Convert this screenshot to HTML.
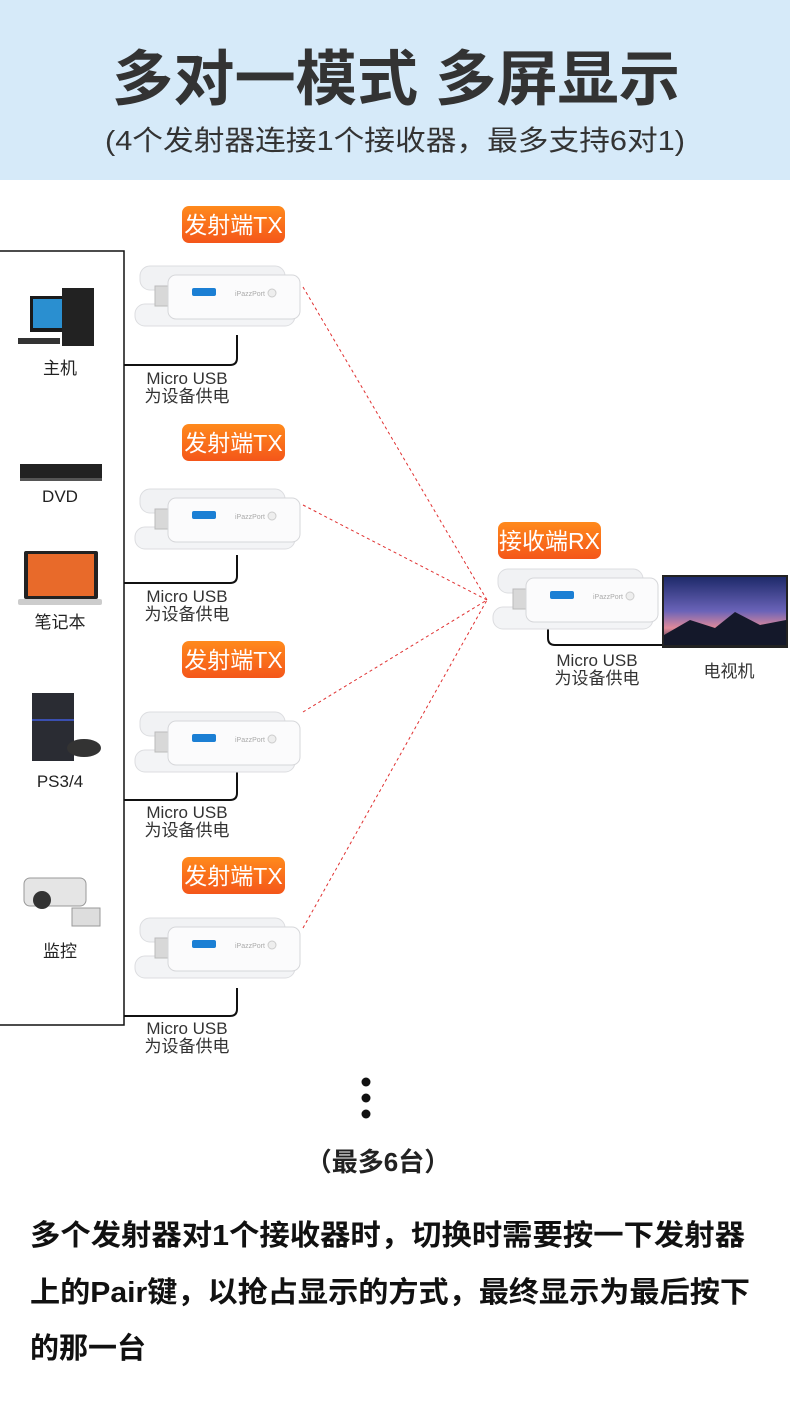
<!DOCTYPE html>
<html><head><meta charset="utf-8"><style>
html,body{margin:0;padding:0;background:#fff;}
body{width:790px;height:1408px;overflow:hidden;position:relative;font-family:"Liberation Sans","Noto Sans CJK SC",sans-serif;}
svg text{font-family:"Liberation Sans","Noto Sans CJK SC",sans-serif;}
</style></head><body>
<svg width="790" height="1408" viewBox="0 0 790 1408" xmlns="http://www.w3.org/2000/svg">
<defs>
<linearGradient id="og" x1="0" y1="0" x2="0" y2="1"><stop offset="0" stop-color="#ff8a1c"/><stop offset="1" stop-color="#f4561a"/></linearGradient>
<linearGradient id="sky" x1="0" y1="0" x2="0" y2="1"><stop offset="0" stop-color="#1e2a6a"/><stop offset="0.5" stop-color="#6a63b8"/><stop offset="0.75" stop-color="#e08a9a"/><stop offset="1" stop-color="#1b2138"/></linearGradient>
<g id="dev">
<rect x="0" y="0" width="145" height="24" rx="10" fill="#f1f2f4" stroke="#dcdde0"/>
<rect x="-5" y="38" width="160" height="22" rx="10" fill="#f3f4f6" stroke="#dcdde0"/>
<rect x="15" y="20" width="22" height="20" fill="#d8d8d8" stroke="#bbb"/>
<rect x="28" y="9" width="132" height="44" rx="8" fill="#fbfbfc" stroke="#d6d7da"/>
<rect x="52" y="22" width="24" height="8" rx="2" fill="#1b7fd4"/>
<text x="95" y="30" font-size="7" fill="#aaa">iPazzPort</text>
<circle cx="132" cy="27" r="4" fill="#eee" stroke="#ccc"/>
</g>
<g id="lbl">
<rect x="0" y="0" width="103" height="37" rx="7" fill="url(#og)"/>
<text x="51.5" y="27" font-size="23" fill="#fff" text-anchor="middle">发射端TX</text>
</g>
</defs>
<rect x="0" y="0" width="790" height="180" fill="#d6eaf9"/>
<text x="112" y="100" font-size="60" font-weight="bold" fill="#333" textLength="568" lengthAdjust="spacingAndGlyphs">多对一模式 多屏显示</text>
<text x="105" y="150" font-size="28" fill="#333" textLength="580" lengthAdjust="spacingAndGlyphs">(4个发射器连接1个接收器，最多支持6对1)</text>

<rect x="-2" y="251" width="126" height="774" fill="none" stroke="#111" stroke-width="1.5"/>

<g>
<rect x="30" y="296" width="40" height="36" fill="#1a1a1a"/><rect x="33" y="299" width="34" height="29" fill="#2a8fd0"/>
<rect x="62" y="288" width="32" height="58" fill="#222"/>
<rect x="18" y="338" width="42" height="6" fill="#333"/>
<text x="60" y="374" font-size="17" fill="#222" text-anchor="middle">主机</text>
<rect x="20" y="464" width="82" height="16" fill="#222"/><rect x="20" y="478" width="82" height="3" fill="#555"/>
<text x="60" y="502" font-size="17" fill="#222" text-anchor="middle">DVD</text>
<rect x="24" y="551" width="74" height="48" rx="2" fill="#222"/><rect x="28" y="554" width="66" height="42" fill="#e86a2a"/>
<rect x="18" y="599" width="84" height="6" rx="2" fill="#ccc"/>
<text x="60" y="628" font-size="17" fill="#222" text-anchor="middle">笔记本</text>
<rect x="32" y="693" width="42" height="68" fill="#2a2c33"/><rect x="32" y="719" width="42" height="2" fill="#3a4fb0"/>
<ellipse cx="84" cy="748" rx="17" ry="9" fill="#333"/>
<text x="60" y="787" font-size="17" fill="#222" text-anchor="middle">PS3/4</text>
<rect x="24" y="878" width="62" height="28" rx="6" fill="#e5e5e5" stroke="#999"/><circle cx="42" cy="900" r="9" fill="#333"/>
<rect x="72" y="908" width="28" height="18" fill="#ddd" stroke="#999"/>
<text x="60" y="957" font-size="17" fill="#222" text-anchor="middle">监控</text>
</g>

<g fill="none" stroke="#111" stroke-width="2">
<path d="M237 335 V358 q0 7 -7 7 H124"/>
<path d="M237 555 V576 q0 7 -7 7 H124"/>
<path d="M237 772 V793 q0 7 -7 7 H124"/>
<path d="M237 988 V1009 q0 7 -7 7 H124"/>
<path d="M548 628 V638 q0 7 7 7 H662"/>
</g>
<use href="#lbl" x="182" y="206"/><use href="#dev" x="140" y="266"/>
<use href="#lbl" x="182" y="424"/><use href="#dev" x="140" y="489"/>
<use href="#lbl" x="182" y="641"/><use href="#dev" x="140" y="712"/>
<use href="#lbl" x="182" y="857"/><use href="#dev" x="140" y="918"/>
<g font-size="17" fill="#333" text-anchor="middle">
<text x="187" y="384">Micro USB</text><text x="187" y="402">为设备供电</text>
<text x="187" y="602">Micro USB</text><text x="187" y="620">为设备供电</text>
<text x="187" y="818">Micro USB</text><text x="187" y="836">为设备供电</text>
<text x="187" y="1034">Micro USB</text><text x="187" y="1052">为设备供电</text>
<text x="597" y="666">Micro USB</text><text x="597" y="684">为设备供电</text>
<text x="729" y="677">电视机</text>
</g>
<g stroke="#e03030" stroke-width="1" stroke-dasharray="3,3" fill="none">
<line x1="303" y1="287" x2="487" y2="600"/>
<line x1="303" y1="505" x2="487" y2="600"/>
<line x1="303" y1="712" x2="487" y2="600"/>
<line x1="303" y1="928" x2="487" y2="600"/>
</g>
<rect x="498" y="522" width="103" height="37" rx="7" fill="url(#og)"/>
<text x="549.5" y="549" font-size="23" fill="#fff" text-anchor="middle">接收端RX</text>
<use href="#dev" x="498" y="569"/>
<rect x="662" y="575" width="126" height="73" fill="#222"/>
<rect x="664" y="577" width="122" height="68" fill="url(#sky)"/>
<polygon points="664,635 690,620 715,628 735,612 760,625 786,620 786,645 664,645" fill="#14182a"/>

<circle cx="366" cy="1082" r="4.5" fill="#111"/><circle cx="366" cy="1098" r="4.5" fill="#111"/><circle cx="366" cy="1114" r="4.5" fill="#111"/>
<text x="378" y="1171" font-size="26" font-weight="bold" fill="#222" text-anchor="middle">（最多6台）</text>
<g font-size="29" font-weight="bold" fill="#111">
<text x="30" y="1245" textLength="715" lengthAdjust="spacingAndGlyphs">多个发射器对1个接收器时，切换时需要按一下发射器</text>
<text x="30" y="1302" textLength="720" lengthAdjust="spacingAndGlyphs">上的Pair键，以抢占显示的方式，最终显示为最后按下</text>
<text x="30" y="1358">的那一台</text>
</g>
</svg>
</body></html>
